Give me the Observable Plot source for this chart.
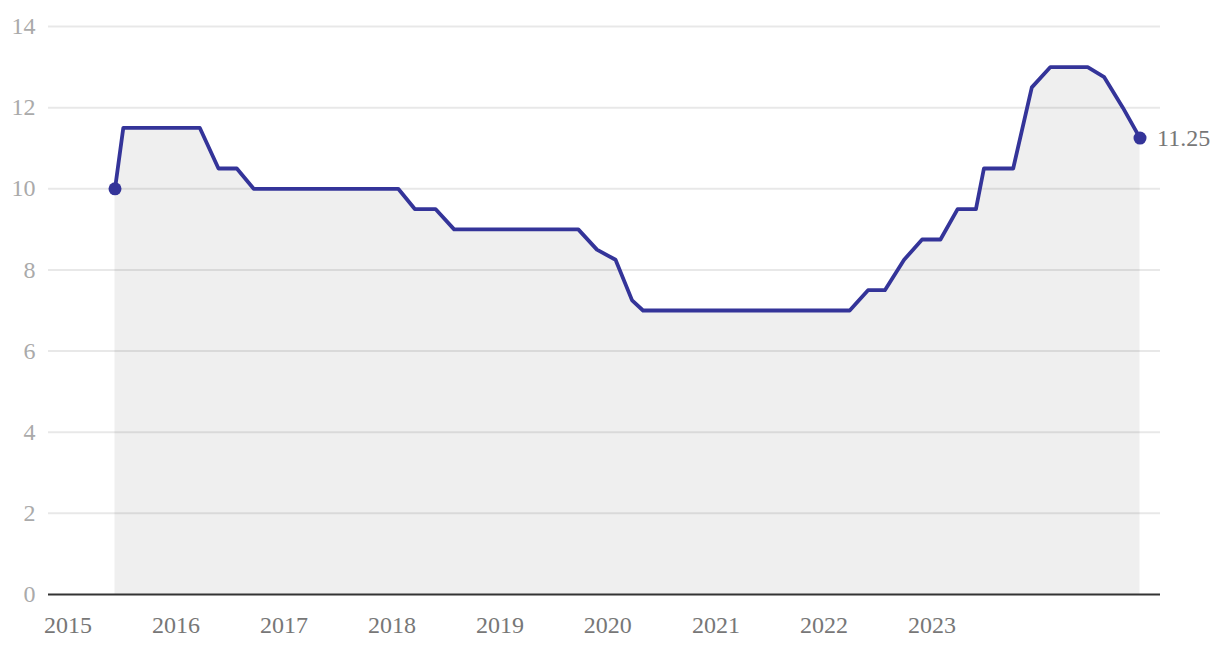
<!DOCTYPE html>
<html>
<head>
<meta charset="utf-8">
<script src="https://cdn.jsdelivr.net/npm/d3@7"></script>
<script src="https://cdn.jsdelivr.net/npm/@observablehq/plot@0.6"></script>
<style>
  html, body { margin: 0; padding: 0; background: #fff; }
  #chart { width: 1220px; height: 648px; }
</style>
</head>
<body>
<div id="chart"></div>
<script>
// Policy rate decision dates and values
const dates = [
  "2015-06-09", "2015-07-07", "2016-03-22", "2016-05-24", "2016-07-25", "2016-09-20",
  "2018-01-22", "2018-03-19", "2018-05-28", "2018-07-30", "2019-09-23", "2019-11-25",
  "2020-01-27", "2020-03-23", "2020-04-29", "2022-03-29", "2022-05-30", "2022-07-26",
  "2022-09-29", "2022-11-29", "2023-01-30", "2023-03-29", "2023-05-30", "2023-06-26",
  "2023-10-03", "2023-12-05", "2024-02-06", "2024-06-11", "2024-08-06", "2024-10-08",
  "2024-12-05"
];
const rates = [
  10, 11.5, 11.5, 10.5, 10.5, 10,
  10, 9.5, 9.5, 9, 9, 8.5,
  8.25, 7.25, 7, 7, 7.5, 7.5,
  8.25, 8.75, 8.75, 9.5, 9.5, 10.5,
  10.5, 12.5, 13, 13, 12.75, 12,
  11.25
];
const yearTicks = [2015, 2016, 2017, 2018, 2019, 2020, 2021, 2022, 2023];
const yTicks = [0, 2, 4, 6, 8, 10, 12, 14];

const data = dates.map((d, i) => ({date: new Date(d), rate: rates[i]}));
const ends = [data[0], data[data.length - 1]];
const last = [data[data.length - 1]];
const xTickDates = yearTicks.map(y => new Date(Date.UTC(y, 0, 1)));

const lineColor = "#343499";
const font = "'Liberation Serif', serif";

const chart = Plot.plot({
  width: 1220,
  height: 648,
  marginTop: 26,
  marginBottom: 54,
  marginLeft: 48,
  marginRight: 60,
  style: {fontFamily: font, fontSize: "24px", background: "#fff", overflow: "visible"},
  x: {type: "utc", domain: [new Date(Date.UTC(2015, 0, 1)), new Date(Date.UTC(2025, 0, 1))], insetLeft: 19.5, insetRight: 12.5},
  y: {domain: [0, 14]},
  marks: [
    Plot.areaY(data, {x: "date", y: "rate", fill: "#efefef"}),
    Plot.gridY(yTicks.filter(v => v > 0), {stroke: "#000", strokeOpacity: 0.09, strokeWidth: 2}),
    Plot.lineY(data, {x: "date", y: "rate", stroke: lineColor, strokeWidth: 3.8}),
    Plot.ruleY([0], {stroke: "#333", strokeWidth: 2}),
    Plot.axisY({ticks: yTicks, tickSize: 0, tickPadding: 13, fill: "#aaa", fontSize: 24, label: null}),
    Plot.axisX({ticks: xTickDates, tickFormat: d3.utcFormat("%Y"), tickSize: 0, tickPadding: 21, fill: "#777", fontSize: 24, label: null}),
    Plot.dot(ends, {x: "date", y: "rate", r: 6.5, fill: lineColor}),
    Plot.text(last, {x: "date", y: "rate", text: d => String(d.rate), dx: 17, textAnchor: "start", fill: "#777", fontSize: 24})
  ]
});
document.getElementById("chart").appendChild(chart);
</script>
</body>
</html>
